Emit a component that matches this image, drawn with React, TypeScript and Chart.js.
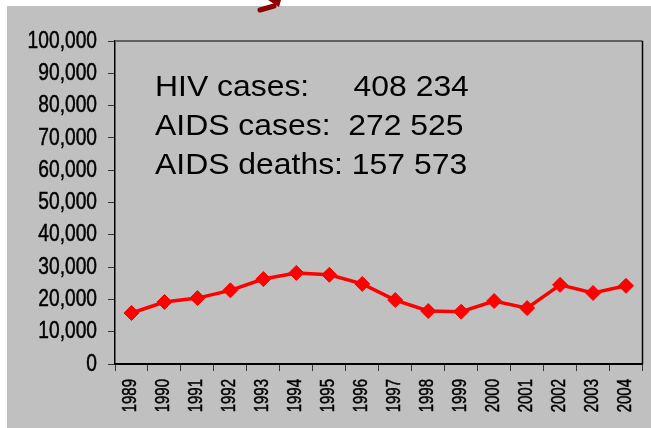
import React, { useEffect, useRef } from "react";
import { Chart, registerables } from "chart.js";

Chart.register(...registerables);

const years = ["1989","1990","1991","1992","1993","1994","1995","1996","1997","1998","1999","2000","2001","2002","2003","2004"];
const cases = [15800, 19200, 20400, 22800, 26300, 28200, 27600, 24800, 19800, 16400, 16200, 19500, 17300, 24500, 22000, 24200];
const noteLines = ["HIV cases:     408 234", "AIDS cases:  272 525", "AIDS deaths: 157 573"];

const FONT = "'Liberation Sans', Arial, sans-serif";

const decor = {
  id: "decor",
  beforeDraw(chart: any) {
    const { ctx, width, height } = chart;
    ctx.save();
    ctx.fillStyle = "#ffffff";
    ctx.fillRect(0, 0, width, height);
    ctx.fillStyle = "#c0c0c0";
    ctx.fillRect(7, 6, width - 7, height - 6);
    // arrow fragment at top
    ctx.strokeStyle = "#8b0000";
    ctx.fillStyle = "#8b0000";
    ctx.lineWidth = 5;
    ctx.lineCap = "round";
    ctx.beginPath();
    ctx.moveTo(260, 10);
    ctx.lineTo(274, 6);
    ctx.stroke();
    ctx.beginPath();
    ctx.moveTo(268, 0);
    ctx.lineTo(281, 0);
    ctx.lineTo(279, 7);
    ctx.closePath();
    ctx.fill();
    ctx.restore();
  },
  afterDraw(chart: any) {
    const { ctx, chartArea, scales } = chart;
    ctx.save();
    ctx.strokeStyle = "#606060";
    ctx.lineWidth = 2;
    ctx.beginPath();
    ctx.moveTo(chartArea.left, chartArea.top);
    ctx.lineTo(chartArea.right, chartArea.top);
    ctx.stroke();
    ctx.strokeStyle = "#000000";
    ctx.lineWidth = 1.5;
    ctx.beginPath();
    ctx.moveTo(chartArea.right, chartArea.top);
    ctx.lineTo(chartArea.right, chartArea.bottom);
    ctx.stroke();
    ctx.fillStyle = "#000000";
    ctx.strokeStyle = "#000000";
    ctx.lineWidth = 0.5;

    // y tick labels (narrow)
    const ys = scales.y;
    ctx.font = "24px " + FONT;
    ctx.textAlign = "right";
    ctx.textBaseline = "middle";
    ys.ticks.forEach((t: any, i: number) => {
      const py = ys.getPixelForTick(i);
      const s = Number(t.value).toLocaleString("en-US");
      ctx.save();
      ctx.translate(chartArea.left - 18, py);
      ctx.scale(0.8, 1);
      ctx.fillText(s, 0, 0);
      ctx.strokeText(s, 0, 0);
      ctx.restore();
    });

    // x tick labels (rotated)
    const xs = scales.x;
    ctx.font = "20px " + FONT;
    ctx.textAlign = "right";
    ctx.textBaseline = "middle";
    xs.ticks.forEach((t: any, i: number) => {
      const px = xs.getPixelForTick(i);
      const s = String(xs.getLabelForValue(t.value));
      ctx.save();
      ctx.translate(px - 1, chartArea.bottom + 15);
      ctx.rotate(-Math.PI / 2);
      ctx.scale(0.75, 1);
      ctx.fillText(s, 0, 0);
      ctx.strokeText(s, 0, 0);
      ctx.restore();
    });

    // annotation
    ctx.font = "29px " + FONT;
    ctx.textAlign = "left";
    ctx.textBaseline = "alphabetic";
    noteLines.forEach((t, i) => {
      ctx.save();
      ctx.translate(chartArea.left + 40, chartArea.top + 55 + i * 39);
      ctx.scale(1.1, 1);
      ctx.fillText(t, 0, 0);
      ctx.restore();
    });
    ctx.restore();
  },
};

export default function App() {
  const ref = useRef<HTMLCanvasElement>(null);
  useEffect(() => {
    if (!ref.current) return;
    const chart = new Chart(ref.current, {
      type: "line",
      data: {
        labels: years,
        datasets: [
          {
            data: cases,
            borderColor: "#ff0000",
            backgroundColor: "#ff0000",
            borderWidth: 3.5,
            pointStyle: "rectRot",
            pointRadius: 7.5,
            pointHoverRadius: 7.5,
            pointBorderWidth: 1,
            tension: 0,
          },
        ],
      },
      options: {
        responsive: false,
        animation: false,
        maintainAspectRatio: false,
        layout: { padding: { left: 0, right: 3, top: 41, bottom: 0 } },
        plugins: { legend: { display: false }, tooltip: { enabled: false } },
        scales: {
          x: {
            offset: true,
            grid: { drawOnChartArea: false, drawTicks: true, tickLength: 7, color: "#333333", offset: true },
            border: { color: "#000000", width: 2 },
            ticks: { display: false, autoSkip: false },
            afterFit(scale: any) {
              scale.height = 64;
            },
          },
          y: {
            min: 0,
            max: 100000,
            grid: { drawOnChartArea: false, drawTicks: true, tickLength: 7, color: "#333333" },
            border: { color: "#000000", width: 1.5 },
            ticks: { display: false, stepSize: 10000 },
            afterFit(scale: any) {
              scale.width = 115;
            },
          },
        },
      },
      plugins: [decor],
    });
    return () => chart.destroy();
  }, []);
  return (
    <div style={{ position: "fixed", left: 0, top: 0, width: 651, height: 428 }}>
      <canvas ref={ref} width={651} height={428} style={{ display: "block" }} />
    </div>
  );
}
